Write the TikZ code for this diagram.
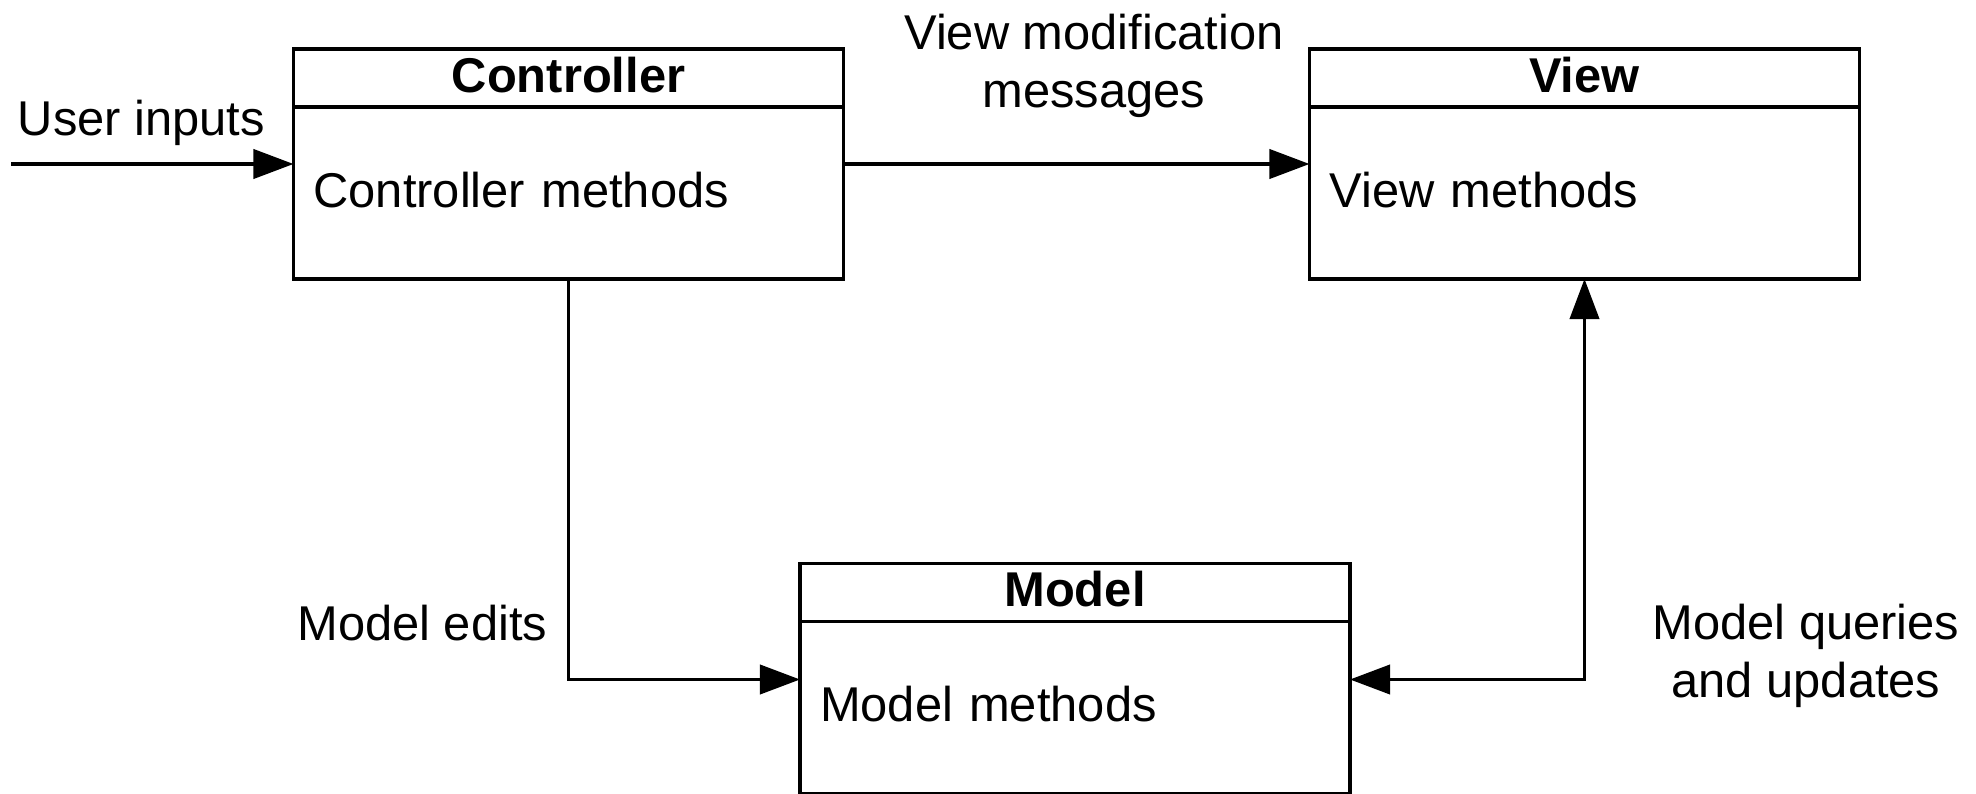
\documentclass[tikz,border=0pt]{standalone}
\usepackage{fontspec}
\setmainfont{Liberation Sans}
\usetikzlibrary{arrows.meta,positioning}

\begin{document}
\begin{tikzpicture}[>={Triangle[length=11.4pt,width=8.3pt]},line width=1pt,
    font=\fontsize{13.9}{16.5}\selectfont,
    head node/.style={rectangle,draw,outer sep=0pt,inner ysep=0pt,minimum width=5.5cm,minimum height=0.58cm,
      text height=0.36cm,text depth=0.08cm,font=\fontsize{13.9}{16.5}\selectfont\bfseries},
    body node/.style={rectangle,draw,outer sep=0pt,minimum width=5.5cm,minimum height=1.72cm,
      inner xsep=0.2cm,text width=5.1cm,align=left,text height=0.36cm,text depth=0.08cm},
    label node/.style={inner sep=0pt,align=center}]
    \useasboundingbox (0,0) rectangle (19.76,7.93);
    \node[head node] (ch) at (5.685,7.15) {Controller};
    \node[body node] (cb) [below=0pt of ch] {Controller methods};
    \node[head node] (vh) at (15.845,7.15) {View};
    \node[body node] (vb) [below=0pt of vh] {View methods};
    \node[head node] (mh) at (10.75,2.005) {Model};
    \node[body node] (mb) [below=0pt of mh] {Model methods};
    \node[label node,anchor=base west] (ui) at (0.16,6.58) {User inputs};
    \node[label node,anchor=north] (vm) at (10.94,7.81) {View modification\\messages};
    \node[label node,anchor=base east] (me) at (5.49,1.53) {Model edits};
    \node[label node,anchor=north] (mq) at (18.06,1.91) {Model queries\\and updates};
    \coordinate (in) at (0.11,6.29);
    \draw[->] (in) -- (in -| cb.west);
    \draw[->] (in -| cb.east) -- (in -| vb.west);
    \draw[->] (cb.south) |- ([yshift=0.28cm]mb.west);
    \draw[<->] (vb.south) |- ([yshift=0.28cm]mb.east);
\end{tikzpicture}
\end{document}
